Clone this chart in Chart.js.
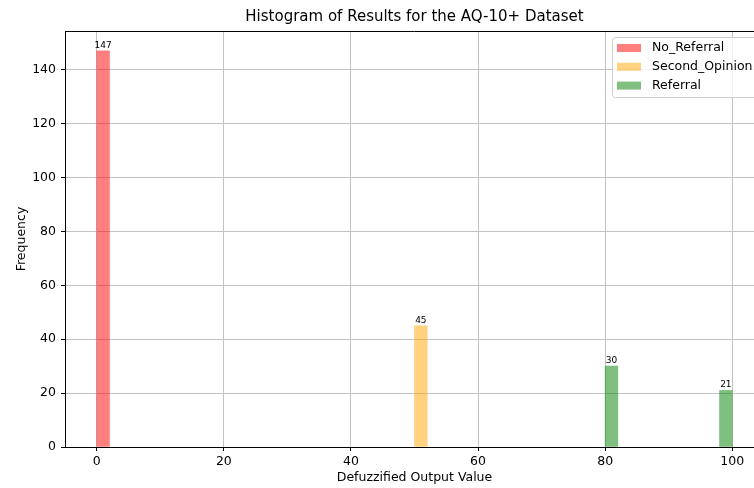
<!DOCTYPE html>
<html>
<head>
<meta charset="utf-8">
<script src="https://cdn.jsdelivr.net/npm/chart.js@4/dist/chart.umd.min.js"></script>
<style>
  html, body { margin: 0; padding: 0; background: #fff; overflow: hidden; }
  #wrap { width: 800px; height: 488px; }
</style>
</head>
<body>
<div id="wrap"><canvas id="c" width="800" height="488"></canvas></div>
<script>
// Histogram bins (width 2) that hold results, per recommendation class
const BIN_WIDTH = 2;
const noReferralBins = [0];
const noReferralCounts = [147];
const secondOpinionBins = [50];
const secondOpinionCounts = [45];
const referralBins = [80, 98];
const referralCounts = [30, 21];

const xTicks = [0, 20, 40, 60, 80, 100];
const yTicks = [0, 20, 40, 60, 80, 100, 120, 140];

const FONT = "'DejaVu Sans', sans-serif";
const LABEL_SIZE = 12.5;
const GRID_COLOR = '#c2c2c2';

function toPoints(starts, counts) {
  return starts.map((s, i) => ({ x: s + BIN_WIDTH / 2, y: counts[i] }));
}

const seriesNames = ['No_Referral', 'Second_Opinion', 'Referral'];
const seriesColors = ['rgba(255,0,0,0.5)', 'rgba(255,165,0,0.5)', 'rgba(0,128,0,0.5)'];

// Frame, value labels and legend drawn on top of the bars
const decorations = {
  id: 'decorations',
  afterDatasetsDraw(chart) {
    const ctx = chart.ctx;
    const a = chart.chartArea;
    ctx.save();
    // top spine
    ctx.strokeStyle = '#000';
    ctx.lineWidth = 1;
    ctx.beginPath();
    ctx.moveTo(a.left, a.top + 0.5);
    ctx.lineTo(a.right, a.top + 0.5);
    ctx.stroke();

    // counts above each bar
    ctx.fillStyle = '#000';
    ctx.font = '9px ' + FONT;
    ctx.textAlign = 'center';
    ctx.textBaseline = 'bottom';
    chart.data.datasets.forEach((ds, di) => {
      chart.getDatasetMeta(di).data.forEach((bar, i) => {
        ctx.fillText(String(ds.data[i].y), bar.x, bar.y - 1);
      });
    });

    // legend
    const lx = 612, ly = 37, lw = 146, lh = 60;
    ctx.fillStyle = 'rgba(255,255,255,0.8)';
    ctx.strokeStyle = '#cccccc';
    ctx.beginPath();
    ctx.roundRect(lx + 0.5, ly + 0.5, lw, lh, 3);
    ctx.fill();
    ctx.stroke();
    ctx.font = LABEL_SIZE + 'px ' + FONT;
    ctx.textAlign = 'left';
    ctx.textBaseline = 'middle';
    seriesNames.forEach((name, i) => {
      const cy = 48 + i * 18.8;
      ctx.fillStyle = seriesColors[i];
      ctx.fillRect(617, cy - 4, 24, 8);
      ctx.fillStyle = '#000';
      ctx.fillText(name, 652, cy);
    });
    ctx.restore();
  }
};

const chart = new Chart(document.getElementById('c'), {
  type: 'bar',
  data: {
    datasets: [
      { label: seriesNames[0], data: toPoints(noReferralBins, noReferralCounts), backgroundColor: seriesColors[0] },
      { label: seriesNames[1], data: toPoints(secondOpinionBins, secondOpinionCounts), backgroundColor: seriesColors[1] },
      { label: seriesNames[2], data: toPoints(referralBins, referralCounts), backgroundColor: seriesColors[2] }
    ]
  },
  options: {
    responsive: false,
    animation: false,
    layout: { padding: { left: 0, right: 36, top: 0, bottom: 0 } },
    datasets: { bar: { grouped: false, barPercentage: 1, categoryPercentage: 1 } },
    plugins: {
      legend: { display: false },
      tooltip: { enabled: false },
      title: {
        display: true,
        fullSize: false,
        text: 'Histogram of Results for the AQ-10+ Dataset',
        color: '#000',
        font: { family: FONT, size: 15, weight: 'normal' },
        padding: { top: 8, bottom: 5 }
      }
    },
    scales: {
      x: {
        type: 'linear',
        offset: false,
        min: -5,
        max: 105,
        afterBuildTicks: s => { s.ticks = xTicks.map(v => ({ value: v })); },
        afterFit: s => { s.height = 41; },
        grid: { offset: false, color: GRID_COLOR, lineWidth: 1, tickColor: '#000', tickLength: 4 },
        border: { color: '#000', width: 1 },
        ticks: { color: '#000', font: { family: FONT, size: LABEL_SIZE }, padding: 3, maxRotation: 0 },
        title: { display: true, text: 'Defuzzified Output Value', color: '#000',
                 font: { family: FONT, size: LABEL_SIZE }, padding: { top: 0, bottom: 3 } }
      },
      y: {
        type: 'linear',
        min: 0,
        max: 154.35,
        afterBuildTicks: s => { s.ticks = yTicks.map(v => ({ value: v })); },
        afterFit: s => { s.width = 65; },
        grid: { color: GRID_COLOR, lineWidth: 1, tickColor: '#000', tickLength: 4 },
        border: { color: '#000', width: 1 },
        ticks: { color: '#000', font: { family: FONT, size: LABEL_SIZE }, padding: 5 },
        title: { display: true, text: 'Frequency', color: '#000',
                 font: { family: FONT, size: LABEL_SIZE }, padding: { top: 14, bottom: 0 } }
      }
    }
  },
  plugins: [decorations]
});

// bar width = one bin width in pixels on the x scale
const binPx = chart.scales.x.getPixelForValue(BIN_WIDTH) - chart.scales.x.getPixelForValue(0);
chart.data.datasets.forEach(ds => { ds.barThickness = binPx; });
chart.update();
</script>
</body>
</html>
